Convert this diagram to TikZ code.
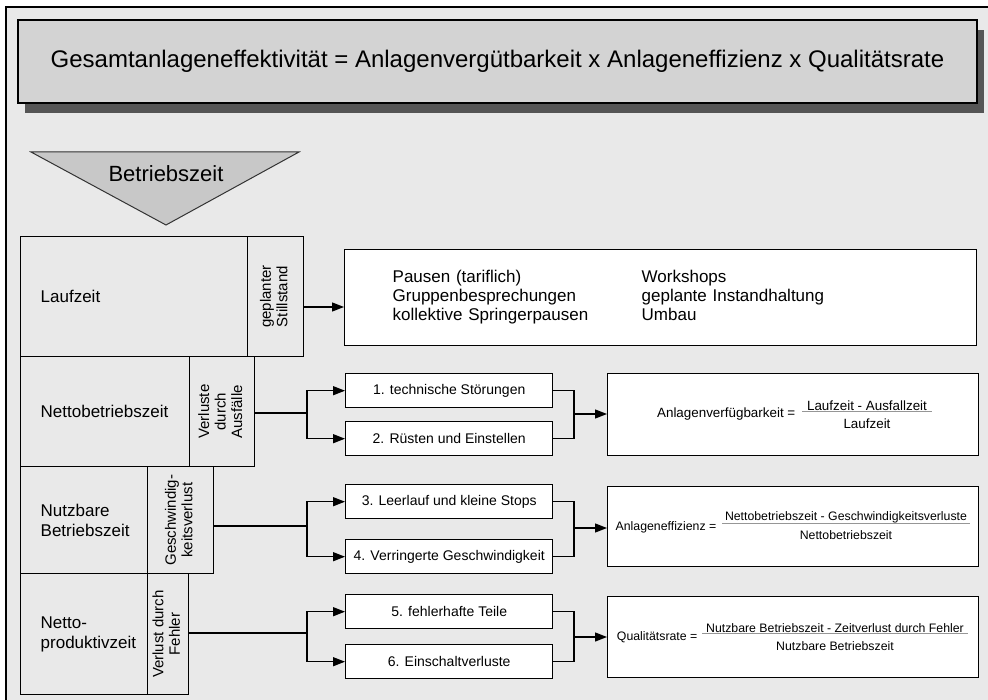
\documentclass[tikz,border=0pt]{standalone}
\usepackage{fontspec}
\usepackage{graphicx}
\setmainfont{Liberation Sans}
\usetikzlibrary{arrows.meta,shadows}
\definecolor{bgc}{RGB}{233,233,233}
\definecolor{titlec}{RGB}{211,211,211}
\definecolor{trianglec}{RGB}{200,200,200}
\definecolor{shadowc}{RGB}{85,85,85}
\definecolor{fracc}{RGB}{150,150,150}
\newcommand{\sidetext}[1]{\rotatebox{90}{\begin{tabular}{@{}c@{}}#1\end{tabular}}}
\begin{document}
\begin{tikzpicture}[x=1pt,y=-1pt,
  titlebox/.style={draw=black, line width=1.2pt, fill=titlec, inner sep=0pt,
    drop shadow={shadow xshift=7pt, shadow yshift=-10pt, fill=shadowc, opacity=1},
    font=\fontsize{24}{28}\selectfont},
  lbox/.style={draw=black, line width=1.4pt, fill=bgc, anchor=north west,
    inner xsep=20pt, inner ysep=0pt, align=left, font=\fontsize{17}{20}\selectfont},
  sbox/.style={draw=black, line width=1.4pt, fill=bgc, anchor=north west,
    inner sep=0pt, align=center, font=\fontsize{15}{16.5}\selectfont},
  rbox/.style={draw=black, line width=1.4pt, fill=white, anchor=north west, inner sep=0pt},
  smallbox/.style={rbox, minimum width=207pt, minimum height=34pt, font=\fontsize{14}{16}\selectfont},
  formbox/.style={rbox, minimum width=371pt},
  ftext/.style={inner sep=0.5pt, font=\fontsize{12.3}{14}\selectfont},
  ftextb/.style={inner sep=0.5pt, font=\fontsize{13.4}{15}\selectfont},
  fracline/.style={draw=fracc, line width=0.6pt},
  conn/.style={draw=black, line width=1.3pt},
  arr/.style={conn, -{Triangle[length=12pt,width=9pt]}}
]
\useasboundingbox (0,0) rectangle (988,700);
\fill[bgc] (6,7) rectangle (988,700);
\draw[line width=1.5pt] (6,700) -- (6,7) -- (988,7);

% title
\node[titlebox, minimum width=959pt, minimum height=83pt] (title) at (497.5,61.5)
  {Gesamtanlageneffektivität = Anlagenvergütbarkeit x Anlageneffizienz x Qualitätsrate};

% triangle
\filldraw[fill=trianglec, draw=black!80, line width=1pt] (31,152) -- (299,152) -- (166,225) -- cycle;
\node[font=\fontsize{22}{26}\selectfont] (bz) at (166,174) {Betriebszeit};

% left boxes
\node[lbox, text width=187pt, minimum height=120pt] (L1) at (20,236) {Laufzeit};
\node[sbox, minimum width=56pt, minimum height=120pt] (S1) at (247,236) {\sidetext{geplanter\\Stillstand}};
\node[lbox, text width=129pt, minimum height=110pt] (L2) at (20,356) {Nettobetriebszeit};
\node[sbox, minimum width=65pt, minimum height=110pt] (S2) at (189,356) {\sidetext{Verluste\\durch\\Ausfälle}};
\node[lbox, text width=87pt, minimum height=107pt] (L3) at (20,466) {Nutzbare\\Betriebszeit};
\node[sbox, minimum width=66pt, minimum height=107pt] (S3) at (147,466) {\sidetext{Geschwindig-\\keitsverlust}};
\node[lbox, text width=87pt, minimum height=121pt] (L4) at (20,573) {Netto-\\produktivzeit};
\node[sbox, minimum width=41pt, minimum height=121pt] (S4) at (147,573) {\sidetext{Verlust durch\\Fehler}};

% planned downtime box
\node[rbox, minimum width=632pt, minimum height=96pt, text width=536pt, inner xsep=48pt,
  align=left, font=\fontsize{17}{19}\selectfont] (P) at (344,249)
  {\begin{tabular}{@{}p{249pt}@{}l@{}}
   Pausen (tariflich) & Workshops\\
   Gruppenbesprechungen & geplante Instandhaltung\\
   kollektive Springerpausen & Umbau
   \end{tabular}};

% small boxes
\node[smallbox] (B1) at (345,373) {1. technische Störungen};
\node[smallbox] (B2) at (345,421) {2. Rüsten und Einstellen};
\node[smallbox] (B3) at (345,484) {3. Leerlauf und kleine Stops};
\node[smallbox] (B4) at (345,539) {4. Verringerte Geschwindigkeit};
\node[smallbox] (B5) at (345,594) {5. fehlerhafte Teile};
\node[smallbox] (B6) at (345,644) {6. Einschaltverluste};

% formula boxes
\node[formbox, minimum height=82pt] (A1) at (607,373) {};
\node[formbox, minimum height=80pt] (A2) at (607,486) {};
\node[formbox, minimum height=81pt] (A3) at (607,596) {};

\node[ftextb, anchor=east] (a1l) at (796,414) {Anlagenverfügbarkeit =};
\node[ftextb] (a1n) at (867,406) {Laufzeit - Ausfallzeit};
\node[ftextb] (a1d) at (867,424) {Laufzeit};
\draw[fracline] ([xshift=-4pt]a1n.south west) -- ([xshift=4pt]a1n.south east);

\node[ftext, anchor=east] (a2l) at (717,527) {Anlageneffizienz =};
\node[ftext] (a2n) at (846,517) {Nettobetriebszeit - Geschwindigkeitsverluste};
\node[ftext] (a2d) at (846,535) {Nettobetriebszeit};
\draw[fracline] ([xshift=-2pt]a2n.south west) -- ([xshift=2pt]a2n.south east);

\node[ftext, anchor=east] (a3l) at (698,637) {Qualitätsrate =};
\node[ftext] (a3n) at (835,628) {Nutzbare Betriebszeit - Zeitverlust durch Fehler};
\node[ftext] (a3d) at (835,646) {Nutzbare Betriebszeit};
\draw[fracline] ([xshift=-3pt]a3n.south west) -- ([xshift=3pt]a3n.south east);

% junction coordinates
\coordinate (j2) at (307,413);
\coordinate (j3) at (307,526);
\coordinate (j4) at (307,633);
\coordinate (k1) at (574,414);
\coordinate (k2) at (574,528);
\coordinate (k3) at (574,637);

% connectors
\draw[arr] (S1.east |- 0,307) -- (P.west |- 0,307);

\draw[conn] (S2.east |- j2) -- (j2);
\draw[arr] (j2) |- (B1.west);
\draw[arr] (j2) |- (B2.west);
\draw[conn] (B1.east) -| (k1) |- (B2.east);
\draw[arr] (k1) -- (A1.west |- k1);

\draw[conn] (S3.east |- j3) -- (j3);
\draw[arr] (j3) |- (B3.west);
\draw[arr] (j3) |- (B4.west);
\draw[conn] (B3.east) -| (k2) |- (B4.east);
\draw[arr] (k2) -- (A2.west |- k2);

\draw[conn] (S4.east |- j4) -- (j4);
\draw[arr] (j4) |- (B5.west);
\draw[arr] (j4) |- (B6.west);
\draw[conn] (B5.east) -| (k3) |- (B6.east);
\draw[arr] (k3) -- (A3.west |- k3);
\end{tikzpicture}
\end{document}
